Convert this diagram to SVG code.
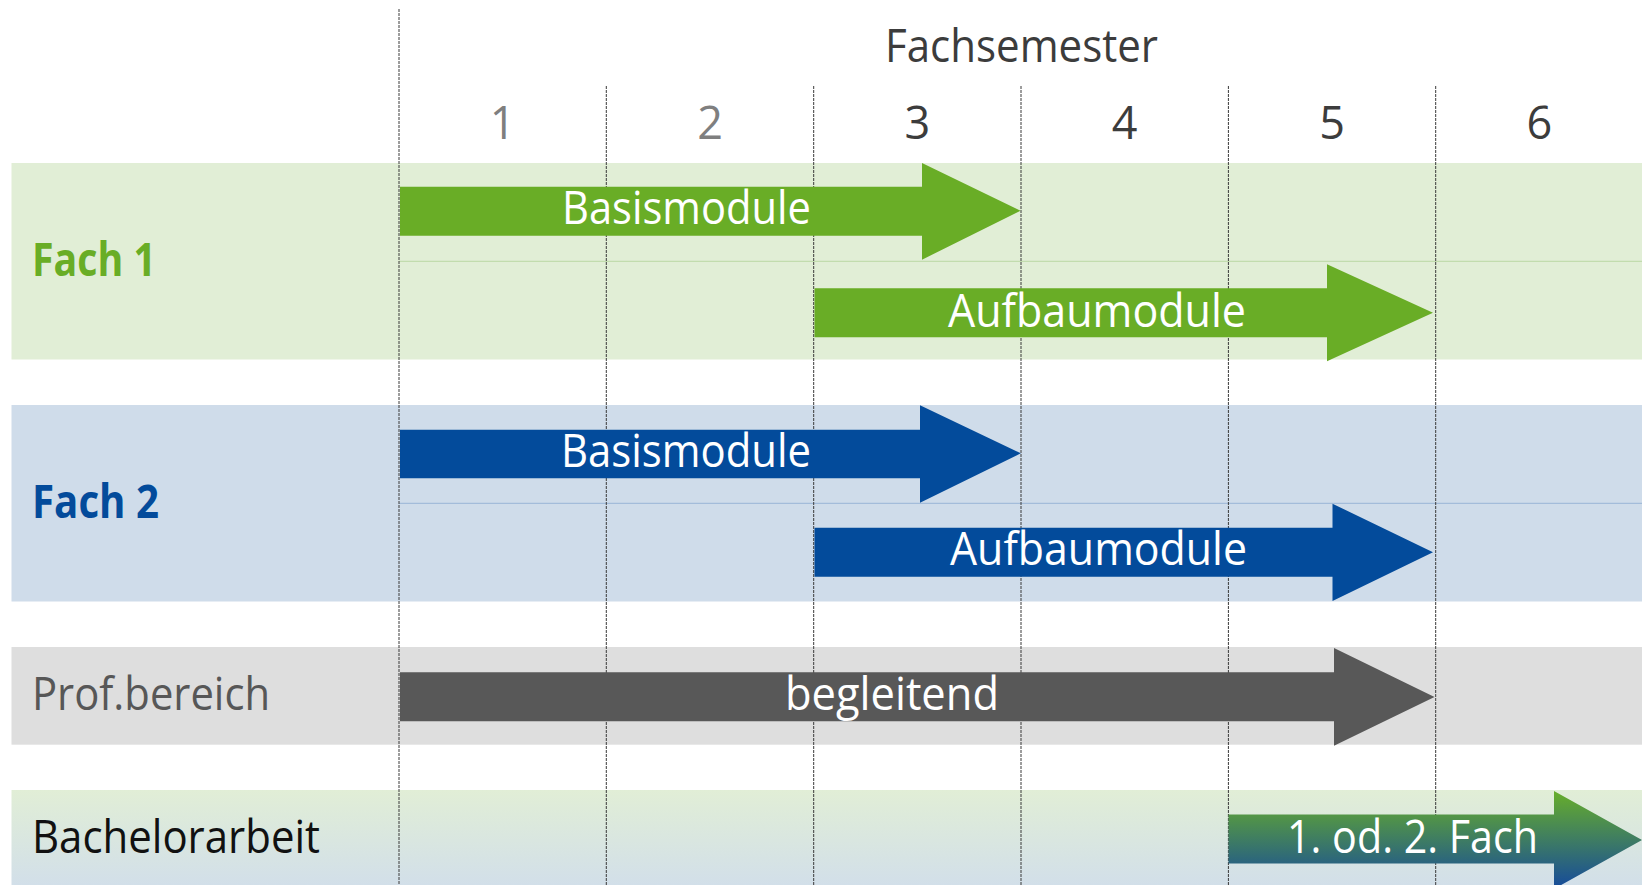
<svg xmlns="http://www.w3.org/2000/svg" width="1642" height="885" viewBox="0 0 1642 885">
<defs>
<linearGradient id="bandGrad" x1="0" y1="0" x2="0" y2="1">
<stop offset="0" stop-color="#e1eed6"/>
<stop offset="1" stop-color="#d2dfe9"/>
</linearGradient>
<linearGradient id="arrowGrad" x1="0" y1="0" x2="0" y2="1">
<stop offset="0" stop-color="#67ae2a"/>
<stop offset="1" stop-color="#154a9c"/>
</linearGradient>
<style>
text{font-family:"Open Sans","Noto Sans","Liberation Sans",sans-serif;}
.hdr{font-size:45px;fill:#3c3c3c;}
.num1{font-size:45px;fill:#7f7f7f;text-anchor:middle;}
.num{font-size:45px;fill:#3c3c3c;text-anchor:middle;}
.lbl{font-size:46px;}
.arr{font-size:45px;fill:#ffffff;}
.grid{stroke:#3a3a3a;stroke-width:1;stroke-dasharray:3 1;fill:none;}
</style>
</defs>
<rect width="1642" height="885" fill="#ffffff"/>

<g id="bands">
<rect id="band-fach1" x="11.5" y="163" width="1631" height="196.5" fill="#e1eed6"/>
<line x1="399" y1="261.3" x2="1642" y2="261.3" stroke="#c2dcae" stroke-width="1.2"/>
<rect id="band-fach2" x="11.5" y="405" width="1631" height="196.5" fill="#cfdcea"/>
<line x1="399" y1="503.3" x2="1642" y2="503.3" stroke="#a3bcda" stroke-width="1.2"/>
<rect id="band-prof" x="11.5" y="647" width="1631" height="97.7" fill="#dedede"/>
<rect id="band-ba" x="11.5" y="790" width="1631" height="95" fill="url(#bandGrad)"/>
</g>

<g id="connectors" class="grid">
<line x1="399" y1="9" x2="399" y2="885"/>
<line x1="606.3" y1="86" x2="606.3" y2="885"/>
<line x1="813.7" y1="86" x2="813.7" y2="885"/>
<line x1="1021" y1="86" x2="1021" y2="885"/>
<line x1="1228.4" y1="86" x2="1228.4" y2="885"/>
<line x1="1435.7" y1="86" x2="1435.7" y2="885"/>
</g>

<g id="header">
<text class="hdr" x="885" y="61.7" textLength="273" lengthAdjust="spacingAndGlyphs">Fachsemester</text>
<text class="num1" x="502.7" y="139">1</text>
<text class="num1" x="710" y="139">2</text>
<text class="num" x="917.3" y="139">3</text>
<text class="num" x="1124.7" y="139">4</text>
<text class="num" x="1332" y="139">5</text>
<text class="num" x="1539.3" y="139">6</text>
</g>

<g id="row-labels">
<text class="lbl" x="32" y="276" fill="#69ad26" font-weight="bold" font-size="47" textLength="124" lengthAdjust="spacingAndGlyphs">Fach 1</text>
<text class="lbl" x="32" y="517.7" fill="#034b9b" font-weight="bold" font-size="47" textLength="127" lengthAdjust="spacingAndGlyphs">Fach 2</text>
<text class="lbl" x="32" y="710" fill="#575757" textLength="238" lengthAdjust="spacingAndGlyphs">Prof.bereich</text>
<text class="lbl" x="32" y="853.3" fill="#111111" textLength="288" lengthAdjust="spacingAndGlyphs">Bachelorarbeit</text>
</g>

<g id="arrow-fach1-basis">
<path d="M400,186.7 H922 V163 L1020.5,210.7 L922,259.7 V235.7 H400 Z" fill="#69ad26"/>
<text class="arr" x="562" y="224.3" textLength="249" lengthAdjust="spacingAndGlyphs">Basismodule</text>
</g>
<g id="arrow-fach1-aufbau">
<path d="M814.5,288.3 H1327 V264.3 L1433,312.7 L1327,361.3 V337.3 H814.5 Z" fill="#69ad26"/>
<text class="arr" x="948" y="326.7" textLength="298" lengthAdjust="spacingAndGlyphs">Aufbaumodule</text>
</g>
<g id="arrow-fach2-basis">
<path d="M400,429.7 H920 V405.3 L1020.8,453.3 L920,502.7 V478.3 H400 Z" fill="#034b9b"/>
<text class="arr" x="561" y="467.3" textLength="250" lengthAdjust="spacingAndGlyphs">Basismodule</text>
</g>
<g id="arrow-fach2-aufbau">
<path d="M814.5,527.7 H1332.5 V503.7 L1433,552.3 L1332.5,601 V576.7 H814.5 Z" fill="#034b9b"/>
<text class="arr" x="950" y="565" textLength="297" lengthAdjust="spacingAndGlyphs">Aufbaumodule</text>
</g>
<g id="arrow-prof">
<path d="M400,672.3 H1334 V648 L1434.5,697 L1334,745.7 V721.3 H400 Z" fill="#585858"/>
<text class="arr" x="785" y="710" textLength="214" lengthAdjust="spacingAndGlyphs">begleitend</text>
</g>
<g id="arrow-ba">
<path d="M1228.5,814.5 H1554 V791 L1642,840 L1554,889 V863.5 H1228.5 Z" fill="url(#arrowGrad)"/>
<text class="arr" x="1287" y="853.3" textLength="251" lengthAdjust="spacingAndGlyphs">1. od. 2. Fach</text>
</g>
</svg>
